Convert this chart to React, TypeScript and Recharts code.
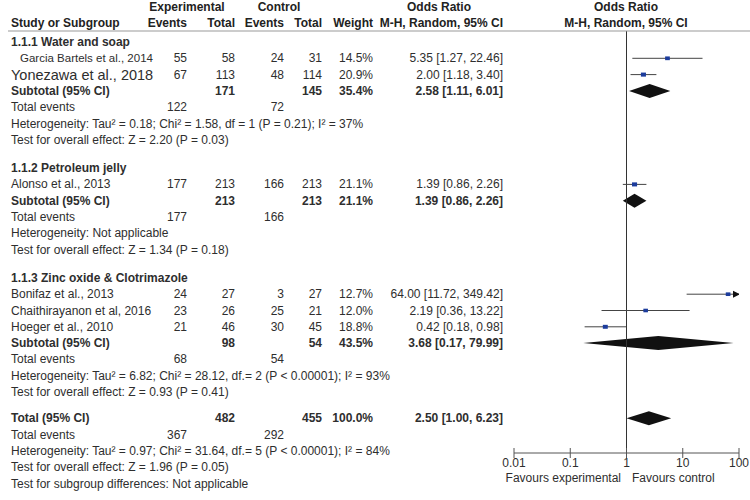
import React from 'react';
import { ComposedChart, XAxis, YAxis, Line, Area, Scatter, ReferenceLine } from 'recharts';

// subgroups
const groupTitles = ['1.1.1 Water and soap', '1.1.2 Petroleum jelly', '1.1.3 Zinc oxide & Clotrimazole'];

// studies
const studyNames = [
  'Garcia Bartels et al., 2014',
  'Yonezawa et al., 2018',
  'Alonso et al., 2013',
  'Bonifaz et al., 2013',
  'Chaithirayanon et al, 2016',
  'Hoeger et al., 2010',
];
const studyGroup = [0, 0, 1, 2, 2, 2];
const expEvents = [55, 67, 177, 24, 23, 21];
const expTotals = [58, 113, 213, 27, 26, 46];
const ctrlEvents = [24, 48, 166, 3, 25, 30];
const ctrlTotals = [31, 114, 213, 27, 21, 45];
const weights = [14.5, 20.9, 21.1, 12.7, 12.0, 18.8];
const oddsRatios = [5.35, 2.0, 1.39, 64.0, 2.19, 0.42];
const ciLower = [1.27, 1.18, 0.86, 11.72, 0.36, 0.18];
const ciUpper = [22.46, 3.4, 2.26, 349.42, 13.22, 0.98];

// subtotals
const subExpTotals = [171, 213, 98];
const subCtrlTotals = [145, 213, 54];
const subWeights = [35.4, 21.1, 43.5];
const subOdds = [2.58, 1.39, 3.68];
const subLower = [1.11, 0.86, 0.17];
const subUpper = [6.01, 2.26, 79.99];
const subExpEvents = [122, 177, 68];
const subCtrlEvents = [72, 166, 54];
const subHeterogeneity = [
  'Heterogeneity: Tau² = 0.18; Chi² = 1.58, df = 1 (P = 0.21); I² = 37%',
  'Heterogeneity: Not applicable',
  'Heterogeneity: Tau² = 6.82; Chi² = 28.12, df.= 2 (P < 0.00001); I² = 93%',
];
const subEffect = [
  'Test for overall effect: Z = 2.20 (P = 0.03)',
  'Test for overall effect: Z = 1.34 (P = 0.18)',
  'Test for overall effect: Z = 0.93 (P = 0.41)',
];

// overall
const totalExp = 482;
const totalCtrl = 455;
const totalWeight = 100.0;
const totalOdds = 2.5;
const totalLower = 1.0;
const totalUpper = 6.23;
const totalExpEvents = 367;
const totalCtrlEvents = 292;
const totalHeterogeneity = 'Heterogeneity: Tau² = 0.97; Chi² = 31.64, df.= 5 (P < 0.00001); I² = 84%';
const totalEffect = 'Test for overall effect: Z = 1.96 (P = 0.05)';
const subgroupDiff = 'Test for subgroup differences: Not applicable';

// axis
const xTicks = [0.01, 0.1, 1, 10, 100];
const tickLabels = ['0.01', '0.1', '1', '10', '100'];

const FONT = '"Liberation Sans", Arial, sans-serif';
const TEXT = '#2e2e2e';
const AXIS_MIN = 0.01;
const AXIS_MAX = 100;
const TOP = 31;
const BOTTOM = 453;
const FIRST_ROW = 42;
const ROW = 16.3;
const GROUP_GAP = 12;
const TOTAL_GAP = 10;
const DIAMOND_H = 7;
const COL = { study: 11, expEv: 187, expTot: 235, ctlEv: 284, ctlTot: 322, weight: 373, or: 503 };
const nameOverrides: Record<number, { dx?: number; size?: number }> = {
  0: { dx: 9, size: 11.5 },
  1: { size: 14.5 },
};

type Cell = { x: number; text: string; anchor?: 'start' | 'end' | 'middle'; bold?: boolean; size?: number };
type TextRow = { y: number; cells: Cell[] };

const fmt = (v: number) => v.toFixed(2);
const ciText = (o: number, l: number, h: number) => `${fmt(o)} [${fmt(l)}, ${fmt(h)}]`;

const rows: TextRow[] = [];
const whiskers: { key: string; data: { x: number; y: number }[] }[] = [];
const squares: { x: number; y: number; size: number }[] = [];
const arrows: { x: number; y: number }[] = [];
const diamonds: { key: string; data: { x: number; lo: number; hi: number }[] }[] = [];

let cursor = FIRST_ROW - ROW;
const nextY = (extra = 0) => (cursor += ROW + extra);

const diamondData = (o: number, l: number, h: number, y: number) => [
  { x: l, lo: y, hi: y },
  { x: o, lo: y - DIAMOND_H, hi: y + DIAMOND_H },
  { x: h, lo: y, hi: y },
];

groupTitles.forEach((title, g) => {
  rows.push({ y: nextY(g === 0 ? 0 : GROUP_GAP), cells: [{ x: COL.study, text: title, bold: true }] });
  studyGroup.forEach((sg, i) => {
    if (sg !== g) return;
    const y = nextY();
    const o = nameOverrides[i] || {};
    rows.push({
      y,
      cells: [
        { x: COL.study + (o.dx || 0), text: studyNames[i], size: o.size },
        { x: COL.expEv, text: String(expEvents[i]), anchor: 'end' },
        { x: COL.expTot, text: String(expTotals[i]), anchor: 'end' },
        { x: COL.ctlEv, text: String(ctrlEvents[i]), anchor: 'end' },
        { x: COL.ctlTot, text: String(ctrlTotals[i]), anchor: 'end' },
        { x: COL.weight, text: `${weights[i].toFixed(1)}%`, anchor: 'end' },
        { x: COL.or, text: ciText(oddsRatios[i], ciLower[i], ciUpper[i]), anchor: 'end' },
      ],
    });
    whiskers.push({ key: `w${i}`, data: [{ x: ciLower[i], y }, { x: Math.min(ciUpper[i], AXIS_MAX), y }] });
    squares.push({ x: oddsRatios[i], y, size: 4 + weights[i] / 20 });
    if (ciUpper[i] > AXIS_MAX) arrows.push({ x: AXIS_MAX, y });
  });
  const sy = nextY();
  rows.push({
    y: sy,
    cells: [
      { x: COL.study, text: 'Subtotal (95% CI)', bold: true },
      { x: COL.expTot, text: String(subExpTotals[g]), anchor: 'end', bold: true },
      { x: COL.ctlTot, text: String(subCtrlTotals[g]), anchor: 'end', bold: true },
      { x: COL.weight, text: `${subWeights[g].toFixed(1)}%`, anchor: 'end', bold: true },
      { x: COL.or, text: ciText(subOdds[g], subLower[g], subUpper[g]), anchor: 'end', bold: true },
    ],
  });
  diamonds.push({ key: `d${g}`, data: diamondData(subOdds[g], subLower[g], subUpper[g], sy) });
  rows.push({
    y: nextY(),
    cells: [
      { x: COL.study, text: 'Total events' },
      { x: COL.expEv, text: String(subExpEvents[g]), anchor: 'end' },
      { x: COL.ctlEv, text: String(subCtrlEvents[g]), anchor: 'end' },
    ],
  });
  rows.push({ y: nextY(), cells: [{ x: COL.study, text: subHeterogeneity[g] }] });
  rows.push({ y: nextY(), cells: [{ x: COL.study, text: subEffect[g] }] });
});

const ty = nextY(TOTAL_GAP);
rows.push({
  y: ty,
  cells: [
    { x: COL.study, text: 'Total (95% CI)', bold: true },
    { x: COL.expTot, text: String(totalExp), anchor: 'end', bold: true },
    { x: COL.ctlTot, text: String(totalCtrl), anchor: 'end', bold: true },
    { x: COL.weight, text: `${totalWeight.toFixed(1)}%`, anchor: 'end', bold: true },
    { x: COL.or, text: ciText(totalOdds, totalLower, totalUpper), anchor: 'end', bold: true },
  ],
});
diamonds.push({ key: 'dt', data: diamondData(totalOdds, totalLower, totalUpper, ty) });
rows.push({
  y: nextY(),
  cells: [
    { x: COL.study, text: 'Total events' },
    { x: COL.expEv, text: String(totalExpEvents), anchor: 'end' },
    { x: COL.ctlEv, text: String(totalCtrlEvents), anchor: 'end' },
  ],
});
rows.push({ y: nextY(), cells: [{ x: COL.study, text: totalHeterogeneity }] });
rows.push({ y: nextY(), cells: [{ x: COL.study, text: totalEffect }] });
rows.push({ y: nextY(), cells: [{ x: COL.study, text: subgroupDiff }] });

const AxisTick = (props: any) => {
  const { x, y, payload } = props;
  const idx = xTicks.indexOf(payload.value);
  return (
    <g>
      <line x1={x} x2={x} y1={y - 5} y2={y + 5} stroke="#555" />
      <text x={x} y={y + 10} textAnchor="middle" dominantBaseline="central" fontSize={12} fill={TEXT} fontFamily={FONT}>
        {tickLabels[idx]}
      </text>
    </g>
  );
};

const Square = (p: any) => {
  const w = p.payload.size;
  return <rect x={p.cx - w / 2} y={p.cy - (w - 1) / 2} width={w} height={w - 1} fill="#1c3c9c" />;
};

const Arrow = (p: any) => (
  <path d={`M${p.cx - 6},${p.cy - 3.5} L${p.cx + 1},${p.cy} L${p.cx - 6},${p.cy + 3.5} Z`} fill="#111" />
);

const T = ({ x, y, children, anchor = 'start', bold = false, size = 12, fill = TEXT }: any) => (
  <text
    x={x}
    y={y}
    textAnchor={anchor}
    dominantBaseline="central"
    fontSize={size}
    fontWeight={bold ? 'bold' : 'normal'}
    fill={fill}
    fontFamily={FONT}
  >
    {children}
  </text>
);

const App = () => {
  return (
    <div style={{ position: 'absolute', left: 0, top: 0, width: 750, height: 500, background: '#fff' }}>
      <div style={{ position: 'absolute', left: 0, top: 0 }}>
        <ComposedChart width={750} height={500} margin={{ top: TOP, right: 11, bottom: 500 - BOTTOM - 30, left: 514 }}>
          <XAxis
            type="number"
            dataKey="x"
            scale="log"
            domain={[AXIS_MIN, AXIS_MAX]}
            allowDataOverflow
            ticks={xTicks}
            interval={0}
            height={30}
            tickSize={0}
            tickMargin={0}
            tickLine={false}
            stroke="#555"
            tick={<AxisTick />}
          />
          <YAxis type="number" dataKey="y" domain={[TOP, BOTTOM]} reversed hide allowDataOverflow />
          <ReferenceLine x={1} stroke="#333" strokeWidth={1} />
          {whiskers.map((w) => (
            <Line
              key={w.key}
              data={w.data}
              dataKey="y"
              type="linear"
              stroke="#444"
              strokeWidth={1}
              dot={false}
              activeDot={false}
              isAnimationActive={false}
            />
          ))}
          {diamonds.map((d) => (
            <Area
              key={d.key}
              data={d.data}
              dataKey={(p: any) => [p.lo, p.hi]}
              type="linear"
              stroke="none"
              fill="#111"
              fillOpacity={1}
              dot={false}
              activeDot={false}
              isAnimationActive={false}
            />
          ))}
          <Scatter data={squares} shape={<Square />} isAnimationActive={false} />
          <Scatter data={arrows} shape={<Arrow />} isAnimationActive={false} />
        </ComposedChart>
      </div>
      <svg width={750} height={500} style={{ position: 'absolute', left: 0, top: 0, pointerEvents: 'none' }}>
        <line x1={8} x2={750} y1={TOP} y2={TOP} stroke="#999" strokeWidth={1.2} />
        <T x={187} y={7} anchor="middle" bold fill="#222">Experimental</T>
        <T x={279} y={7} anchor="middle" bold fill="#222">Control</T>
        <T x={439} y={7} anchor="middle" bold fill="#222">Odds Ratio</T>
        <T x={626} y={7} anchor="middle" bold fill="#222">Odds Ratio</T>
        <T x={COL.study} y={23} bold fill="#222">Study or Subgroup</T>
        <T x={COL.expEv} y={23} anchor="end" bold fill="#222">Events</T>
        <T x={COL.expTot} y={23} anchor="end" bold fill="#222">Total</T>
        <T x={COL.ctlEv} y={23} anchor="end" bold fill="#222">Events</T>
        <T x={COL.ctlTot} y={23} anchor="end" bold fill="#222">Total</T>
        <T x={COL.weight} y={23} anchor="end" bold fill="#222">Weight</T>
        <T x={COL.or} y={23} anchor="end" bold fill="#222">M-H, Random, 95% CI</T>
        <T x={626} y={23} anchor="middle" bold fill="#222">M-H, Random, 95% CI</T>
        {rows.map((r, ri) =>
          r.cells.map((c, ci) => (
            <T key={`${ri}-${ci}`} x={c.x} y={r.y} anchor={c.anchor || 'start'} bold={c.bold} size={c.size || 12}>
              {c.text}
            </T>
          )),
        )}
        <T x={621} y={478} anchor="end">Favours experimental</T>
        <T x={632} y={478}>Favours control</T>
      </svg>
    </div>
  );
};

export default App;
